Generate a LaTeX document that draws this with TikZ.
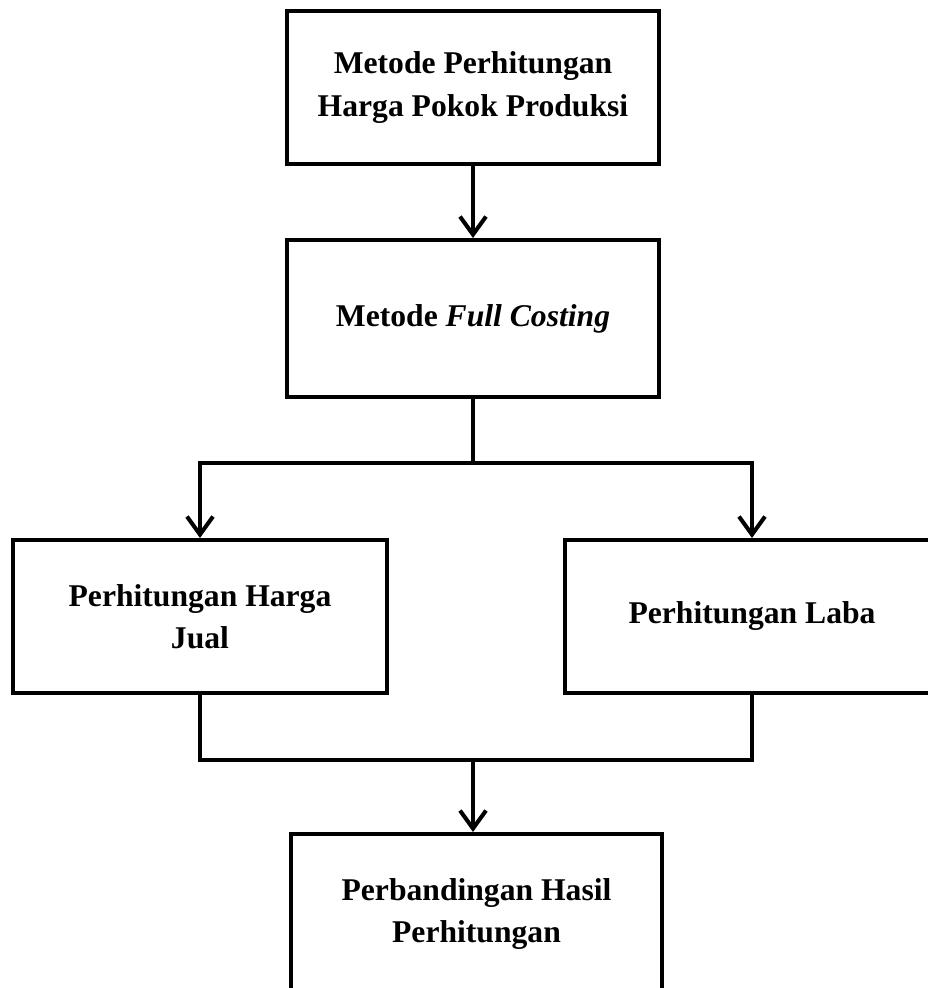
\documentclass[tikz,border=0pt]{standalone}
\usepackage{fontspec}
\setmainfont{Liberation Serif}
\usepackage{tikz}
\usetikzlibrary{arrows.meta,positioning}
\tikzstyle{flowBox} = [
  draw,
  shape=rectangle,
  line width=2.3pt,
  align=center,
  inner sep=0pt,
  minimum width=7.44cm,
  minimum height=3.06cm,
  font=\fontsize{18}{24}\selectfont\bfseries,
  ]
\tikzstyle{flowLine} = [line width=2.3pt]
\tikzstyle{flowArrow} = [
  flowLine,
  -{Straight Barb[length=0.36cm,width=0.52cm]},
  ]

\begin{document}
\begin{tikzpicture}
  \useasboundingbox (0,0) rectangle (18.56,-19.76);
  \clip (0,0) rectangle (18.56,-19.76);

  \node[flowBox] (metode) at (9.46,-1.75)
    {Metode Perhitungan\\Harga Pokok Produksi};
  \node[flowBox, minimum height=3.14cm] (full) at (9.46,-6.37)
    {Metode \textit{Full Costing}};
  \node[flowBox, minimum width=7.48cm] (jual) at (4.0,-12.33)
    {Perhitungan Harga\\Jual};
  \node[flowBox, minimum width=7.48cm] (laba) at (15.04,-12.33)
    {Perhitungan Laba};
  % runs past the lower edge of the page
  \node[flowBox, minimum width=7.42cm, minimum height=3.2cm] (hasil) at (9.53,-18.28)
    {Perbandingan Hasil\\Perhitungan};

  % junction points
  \coordinate (split) at (9.46,-9.26);
  \coordinate (merge) at (9.46,-15.2);

  \draw[flowArrow] (metode.south) -- (full.north);
  \draw[flowLine] (full.south) -- (split);
  \draw[flowArrow] (split) -| (jual.north);
  \draw[flowArrow] (split) -| (laba.north);
  \draw[flowLine] (jual.south) |- (merge) -| (laba.south);
  \draw[flowArrow] (merge) -- (merge |- hasil.north);

\end{tikzpicture}
\end{document}
